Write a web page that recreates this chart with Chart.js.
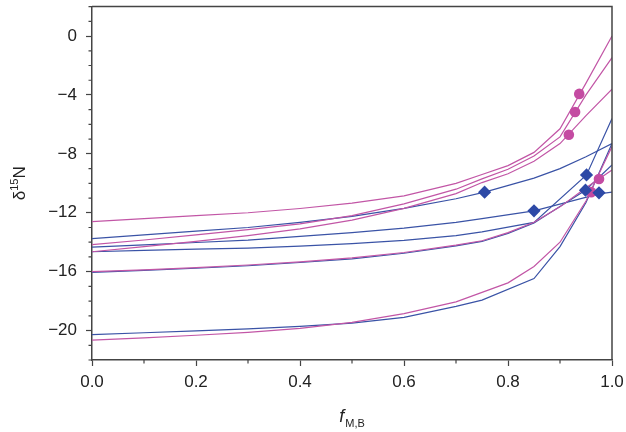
<!DOCTYPE html>
<html><head><meta charset="utf-8">
<script src="https://cdn.jsdelivr.net/npm/chart.js@4.4.1/dist/chart.umd.min.js"></script>
<style>html,body{margin:0;padding:0;background:#fff;}#wrap{width:626px;height:432px;}</style>
</head><body><div id="wrap"><canvas id="c" width="626" height="432"></canvas></div>
<script>
// ---- data ----
const fP1 = [0,0.1,0.2,0.3,0.4,0.5,0.6,0.7,0.75,0.8,0.85,0.9,0.95,1.0];
const vP1 = [-12.6,-12.4,-12.2,-12.0,-11.71,-11.35,-10.85,-10.0,-9.4,-8.8,-7.9,-6.3,-3.2,0.0];
const fP2 = [0,0.1,0.2,0.3,0.4,0.5,0.6,0.7,0.75,0.8,0.85,0.9,0.95,1.0];
const vP2 = [-14.16,-13.85,-13.5,-13.15,-12.76,-12.2,-11.4,-10.4,-9.7,-9.05,-8.15,-6.85,-4.0,-1.47];
const fP3 = [0,0.1,0.2,0.3,0.4,0.5,0.6,0.7,0.75,0.8,0.85,0.9,0.95,1.0];
const vP3 = [-14.65,-14.3,-13.95,-13.55,-13.09,-12.5,-11.7,-10.7,-9.95,-9.35,-8.5,-7.3,-5.4,-3.6];
const fP4 = [0,0.1,0.2,0.3,0.4,0.5,0.6,0.7,0.75,0.8,0.85,0.9,0.95,1.0];
const vP4 = [-16.0,-15.88,-15.72,-15.55,-15.33,-15.07,-14.7,-14.2,-13.9,-13.35,-12.65,-11.6,-10.3,-9.1];
const fP5 = [0,0.1,0.2,0.3,0.4,0.5,0.6,0.7,0.8,0.85,0.9,0.95,1.0];
const vP5 = [-20.65,-20.5,-20.32,-20.12,-19.85,-19.45,-18.85,-18.05,-16.76,-15.65,-14.0,-11.2,-7.5];

const fB1 = [0,0.1,0.2,0.3,0.4,0.5,0.6,0.7,0.755,0.85,0.9,0.95,1.0];
const vB1 = [-13.76,-13.5,-13.25,-13.0,-12.65,-12.25,-11.7,-11.05,-10.6,-9.65,-9.0,-8.2,-7.3];
const fB2 = [0,0.1,0.2,0.3,0.4,0.5,0.6,0.7,0.75,0.85,0.975,1.0];
const vB2 = [-14.33,-14.18,-14.02,-13.86,-13.6,-13.35,-13.05,-12.65,-12.4,-11.87,-10.72,-10.6];
const fB3 = [0,0.1,0.2,0.3,0.4,0.5,0.6,0.7,0.75,0.85,0.951,1.0];
const vB3 = [-14.65,-14.55,-14.47,-14.4,-14.27,-14.1,-13.88,-13.55,-13.3,-12.65,-9.43,-5.6];
const fB4 = [0,0.1,0.2,0.3,0.4,0.5,0.6,0.7,0.75,0.8,0.85,0.949,1.0];
const vB4 = [-16.05,-15.92,-15.77,-15.6,-15.38,-15.13,-14.75,-14.25,-13.95,-13.4,-12.7,-10.47,-8.76];
const fB5 = [0,0.1,0.2,0.3,0.4,0.5,0.6,0.7,0.75,0.85,0.9,0.95,1.0];
const vB5 = [-20.27,-20.15,-20.02,-19.88,-19.72,-19.5,-19.1,-18.36,-17.93,-16.47,-14.3,-11.3,-7.3];

const circleF = [0.937,0.929,0.917,0.975,0.96];
const circleV = [-3.93,-5.16,-6.7,-9.71,-10.6];
const diamondF = [0.755,0.85,0.951,0.949,0.975];
const diamondV = [-10.6,-11.87,-9.43,-10.47,-10.65];

const xMajorTicks = [0,0.2,0.4,0.6,0.8,1.0];
const xTickLabels = ['0.0','0.2','0.4','0.6','0.8','1.0'];
const yMajorTicks = [0,-4,-8,-12,-16,-20];
const yTickLabels = ['0','\u22124','\u22128','\u221212','\u221216','\u221220'];

// ---- style ----
const PINK = '#c256a6', BLUE = '#3a53a6', PINK_M = '#c44ba2', BLUE_M = '#2d49a6';
const AXIS = '#444', TXT = '#222', FONT = '"Liberation Sans", Arial, sans-serif';

const pts = (f, v) => f.map((x, i) => ({x: x, y: v[i]}));
const lineDs = (f, v, c) => ({data: pts(f, v), borderColor: c, borderWidth: 1.2, showLine: true,
  pointRadius: 0, fill: false, tension: 0, order: 3});

const datasets = [
  lineDs(fP1, vP1, PINK), lineDs(fP2, vP2, PINK), lineDs(fP3, vP3, PINK),
  lineDs(fP4, vP4, PINK), lineDs(fP5, vP5, PINK),
  lineDs(fB1, vB1, BLUE), lineDs(fB2, vB2, BLUE), lineDs(fB3, vB3, BLUE),
  lineDs(fB4, vB4, BLUE), lineDs(fB5, vB5, BLUE),
  {data: pts(circleF, circleV), showLine: false, pointStyle: 'circle', pointRadius: 5.3,
   backgroundColor: PINK_M, borderColor: PINK_M, borderWidth: 0, order: 2},
  {data: pts(diamondF, diamondV), showLine: false, pointStyle: 'rectRot', pointRadius: 6.6,
   backgroundColor: BLUE_M, borderColor: BLUE_M, borderWidth: 0, order: 1}
];

const isXMajor = v => xMajorTicks.some(t => Math.abs(t - v) < 1e-6);
const isYMajor = v => yMajorTicks.some(t => Math.abs(t - v) < 1e-6);

const decorPlugin = {
  id: 'decor',
  afterDraw(chart) {
    const ctx = chart.ctx, ca = chart.chartArea, xs = chart.scales.x, ys = chart.scales.y;
    ctx.save();
    ctx.strokeStyle = AXIS; ctx.lineWidth = 1.5;
    ctx.beginPath();
    ctx.moveTo(ca.left, ca.top); ctx.lineTo(ca.right, ca.top); ctx.lineTo(ca.right, ca.bottom);
    ctx.stroke();
    ctx.lineWidth = 1.2;
    ctx.beginPath();
    xs.ticks.forEach(t => { if (!isXMajor(t.value)) { const p = xs.getPixelForValue(t.value);
      ctx.moveTo(p, ca.bottom); ctx.lineTo(p, ca.bottom + 3.5); } });
    ys.ticks.forEach(t => { if (!isYMajor(t.value)) { const p = ys.getPixelForValue(t.value);
      ctx.moveTo(ca.left - 3.5, p); ctx.lineTo(ca.left, p); } });
    ctx.stroke();
    ctx.fillStyle = TXT; ctx.textBaseline = 'alphabetic'; ctx.textAlign = 'left';
    const cy = (ca.top + ca.bottom) / 2;
    ctx.translate(25, cy); ctx.rotate(-Math.PI / 2);
    ctx.font = '17px ' + FONT; const wd = ctx.measureText('\u03b4').width, wn = ctx.measureText('N').width;
    ctx.font = '11px ' + FONT; const w15 = ctx.measureText('15').width;
    let x = -(wd + w15 + wn) / 2;
    ctx.font = '17px ' + FONT; ctx.fillText('\u03b4', x, 0); x += wd;
    ctx.font = '11px ' + FONT; ctx.fillText('15', x, -7); x += w15;
    ctx.font = '17px ' + FONT; ctx.fillText('N', x, 0);
    ctx.restore();
    ctx.save();
    ctx.fillStyle = TXT; ctx.textBaseline = 'alphabetic'; ctx.textAlign = 'left';
    const cx = (ca.left + ca.right) / 2;
    ctx.font = 'italic 18px ' + FONT; const wf = ctx.measureText('f').width;
    ctx.font = '11px ' + FONT; const ws = ctx.measureText('M,B').width;
    let x0 = cx - (wf + ws + 1) / 2;
    ctx.font = 'italic 18px ' + FONT; ctx.fillText('f', x0, 422);
    ctx.font = '11px ' + FONT; ctx.fillText('M,B', x0 + wf + 1, 427);
    ctx.restore();
  }
};

new Chart(document.getElementById('c'), {
  type: 'scatter',
  data: {datasets: datasets},
  plugins: [decorPlugin],
  options: {
    responsive: false, animation: false, devicePixelRatio: 1,
    layout: {padding: {top: 1, right: 14, left: 0, bottom: 0}},
    plugins: {legend: {display: false}, tooltip: {enabled: false}},
    scales: {
      x: {
        type: 'linear', min: 0, max: 1,
        afterFit: s => { s.height = 72; s.paddingRight = 0; s.paddingLeft = 0; },
        border: {display: true, color: AXIS, width: 1.5},
        grid: {drawOnChartArea: false, drawTicks: true, tickLength: 6,
          tickColor: c => isXMajor(c.tick.value) ? AXIS : 'rgba(0,0,0,0)', tickWidth: 1.2},
        ticks: {stepSize: 0.1, autoSkip: false, maxRotation: 0, padding: 6, color: TXT,
          font: {family: FONT, size: 17},
          callback: v => { const i = xMajorTicks.findIndex(t => Math.abs(t - v) < 1e-6); return i >= 0 ? xTickLabels[i] : ''; }}
      },
      y: {
        type: 'linear', min: -22, max: 2,
        afterFit: s => { s.width = 92; s.paddingTop = 0; s.paddingBottom = 0; },
        border: {display: true, color: AXIS, width: 1.5},
        grid: {drawOnChartArea: false, drawTicks: true, tickLength: 6,
          tickColor: c => isYMajor(c.tick.value) ? AXIS : 'rgba(0,0,0,0)', tickWidth: 1.2},
        ticks: {stepSize: 1, autoSkip: false, padding: 9, color: TXT,
          font: {family: FONT, size: 17},
          callback: v => { const i = yMajorTicks.findIndex(t => Math.abs(t - v) < 1e-6); return i >= 0 ? yTickLabels[i] : ''; }}
      }
    }
  }
});
</script></body></html>
